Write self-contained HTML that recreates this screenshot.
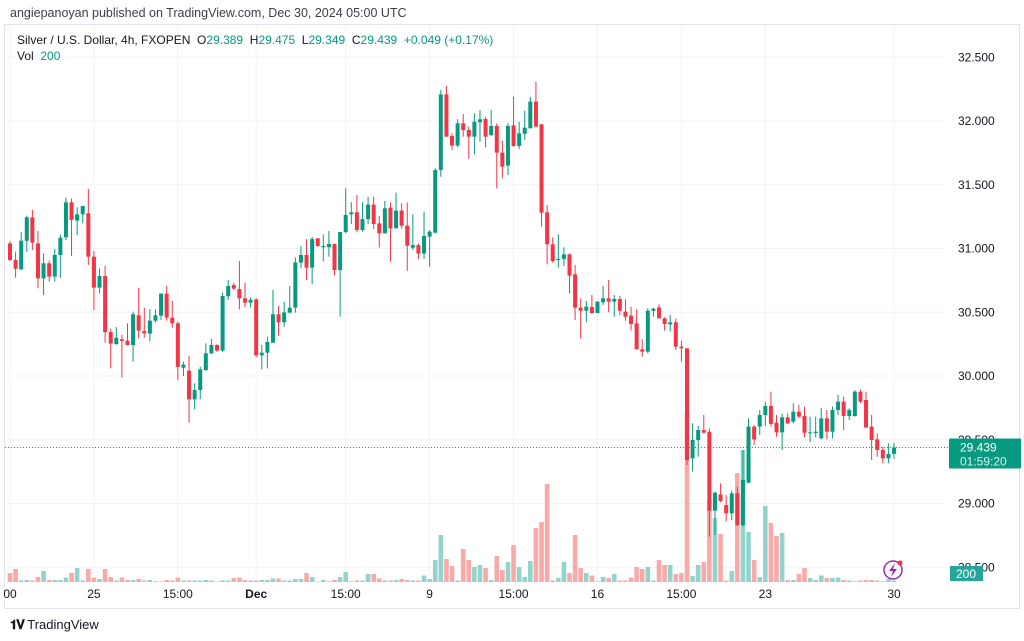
<!DOCTYPE html>
<html><head><meta charset="utf-8">
<style>
html,body{margin:0;padding:0;background:#fff;width:1024px;height:641px;overflow:hidden;font-family:"Liberation Sans",sans-serif;}
#wrap{position:relative;width:1024px;height:641px;}
.t{position:absolute;white-space:nowrap;}
</style></head><body>
<div id="wrap">
<div class="t" style="left:10px;top:6px;font-size:12.5px;color:#3b3f4a">angiepanoyan published on TradingView.com, Dec 30, 2024 05:00 UTC</div>
<svg id="chart" width="1024" height="641" style="position:absolute;left:0;top:0"></svg>
<div class="t" style="left:17px;top:33px;font-size:12px;color:#131722">Silver / U.S. Dollar, 4h, FXOPEN&nbsp;&nbsp;O<span style="color:#089981">29.389</span>&nbsp;&nbsp;H<span style="color:#089981">29.475</span>&nbsp;&nbsp;L<span style="color:#089981">29.349</span>&nbsp;&nbsp;C<span style="color:#089981">29.439</span>&nbsp;&nbsp;<span style="color:#089981">+0.049 (+0.17%)</span></div>
<div class="t" style="left:17px;top:49px;font-size:12px;color:#131722">Vol&nbsp;&nbsp;<span style="color:#089981">200</span></div>
<div class="t" style="left:10px;top:617px;font-size:13px;color:#131722"><b style="font-size:13px;letter-spacing:-1px">𝟏𝐕</b> TradingView</div>
</div>
<script>
const opens=[31.04,30.91,30.837,31.061,31.244,31.04,30.766,30.884,30.78,30.949,31.088,31.362,31.219,31.268,31.276,30.936,30.693,30.784,30.345,30.25,30.288,30.277,30.243,30.476,30.353,30.332,30.434,30.473,30.646,30.458,30.413,30.065,30.042,29.817,29.89,30.047,30.178,30.243,30.199,30.625,30.714,30.682,30.609,30.575,30.601,30.162,30.183,30.261,30.484,30.421,30.497,30.536,30.889,30.949,30.85,31.08,31.01,31.01,31.035,30.831,31.129,31.268,31.284,31.145,31.231,31.344,31.197,31.119,31.32,31.158,31.297,31.179,31.006,31.027,30.96,31.093,31.124,31.616,32.209,31.882,31.807,31.982,31.929,31.877,31.99,32.016,31.89,31.961,31.752,31.65,31.966,31.804,31.9,31.943,32.152,31.974,31.284,31.033,30.915,30.918,30.954,30.797,30.536,30.512,30.541,30.494,30.578,30.609,30.583,30.604,30.505,30.473,30.413,30.209,30.191,30.512,30.538,30.452,30.405,30.421,30.23,30.217,29.354,29.498,29.576,29.563,28.944,29.072,28.988,28.923,29.08,28.831,29.163,29.603,29.603,29.694,29.765,29.634,29.558,29.676,29.642,29.72,29.686,29.553,29.553,29.511,29.668,29.563,29.733,29.799,29.686,29.686,29.877,29.812,29.603,29.503,29.42,29.354,29.389];
const closes=[30.91,30.842,31.061,31.244,31.046,30.766,30.884,30.78,30.949,31.085,31.362,31.224,31.268,31.333,30.936,30.693,30.784,30.345,30.254,30.30,30.275,30.243,30.484,30.356,30.335,30.434,30.476,30.646,30.458,30.413,30.071,30.089,29.817,29.89,30.052,30.178,30.243,30.199,30.627,30.706,30.685,30.609,30.575,30.598,30.162,30.183,30.267,30.484,30.421,30.499,30.536,30.891,30.949,30.85,31.074,31.02,31.02,31.035,30.831,31.129,31.263,31.284,31.145,31.231,31.344,31.192,31.119,31.315,31.158,31.297,31.179,31.022,31.027,30.96,31.098,31.132,31.616,32.209,31.877,31.807,31.982,31.929,31.877,31.995,32.013,31.877,31.961,31.752,31.642,31.961,31.804,31.903,31.948,32.152,31.956,31.281,31.033,30.902,30.918,30.954,30.787,30.536,30.512,30.544,30.494,30.583,30.609,30.583,30.604,30.512,30.465,30.408,30.209,30.191,30.512,30.528,30.452,30.408,30.421,30.23,30.217,29.341,29.498,29.576,29.555,28.944,29.085,29.02,28.923,29.08,28.831,29.184,29.603,29.503,29.694,29.765,29.624,29.558,29.676,29.629,29.72,29.681,29.555,29.558,29.563,29.668,29.563,29.733,29.799,29.686,29.733,29.877,29.799,29.595,29.498,29.42,29.354,29.389,29.439];
const highs=[31.06,30.975,31.127,31.258,31.302,31.137,30.962,30.905,30.996,31.111,31.401,31.393,31.323,31.333,31.467,30.98,30.844,30.863,30.371,30.384,30.322,30.413,30.505,30.693,30.536,30.525,30.523,30.648,30.706,30.588,30.426,30.112,30.159,29.942,30.073,30.256,30.29,30.25,30.654,30.753,30.732,30.902,30.732,30.617,30.609,30.243,30.308,30.675,30.549,30.583,30.706,30.931,31.02,31.074,31.093,31.08,31.111,31.137,31.04,31.129,31.472,31.362,31.42,31.362,31.407,31.407,31.255,31.373,31.36,31.438,31.354,31.36,31.268,31.04,31.289,31.145,31.629,32.243,32.277,31.903,32.013,32.055,31.956,32.06,32.086,32.034,32.086,31.982,31.846,31.982,32.191,31.995,32.081,32.191,32.308,31.974,31.341,31.085,31.111,31.009,30.962,30.871,30.609,30.588,30.635,30.588,30.706,30.753,30.635,30.63,30.601,30.544,30.523,30.288,30.531,30.536,30.562,30.46,30.478,30.452,30.277,30.217,29.629,29.608,29.694,29.589,29.093,29.158,29.067,29.101,29.132,29.42,29.668,29.616,29.733,29.799,29.877,29.694,29.707,29.707,29.786,29.773,29.76,29.681,29.681,29.747,29.733,29.76,29.851,29.838,29.747,29.89,29.895,29.877,29.694,29.55,29.446,29.472,29.475];
const lows=[30.90,30.771,30.83,30.975,30.988,30.688,30.635,30.74,30.74,30.771,31.067,30.941,31.106,31.197,30.871,30.518,30.648,30.261,30.06,30.246,29.987,30.24,30.112,30.295,30.30,30.27,30.42,30.439,30.434,30.379,29.969,30.0,29.634,29.739,29.817,30.04,30.17,30.19,30.188,30.596,30.674,30.523,30.538,30.538,30.146,30.052,30.06,30.261,30.316,30.387,30.49,30.497,30.844,30.753,30.719,31.01,30.90,30.936,30.79,30.465,31.119,31.192,31.127,31.132,31.192,31.153,31.007,31.119,30.897,31.158,31.158,30.824,30.988,30.918,30.918,30.858,31.119,31.563,31.877,31.773,31.793,31.877,31.702,31.739,31.838,31.793,31.882,31.472,31.55,31.576,31.799,31.78,31.851,31.943,31.95,31.171,30.876,30.889,30.85,30.863,30.648,30.439,30.295,30.421,30.489,30.494,30.557,30.5,30.465,30.478,30.434,30.356,30.209,30.152,30.178,30.465,30.452,30.356,30.348,30.204,30.112,29.302,29.25,29.367,29.55,28.74,28.753,29.01,28.858,28.87,28.824,28.818,29.163,29.459,29.537,29.608,29.603,29.524,29.42,29.623,29.629,29.668,29.519,29.48,29.519,29.503,29.503,29.511,29.694,29.576,29.655,29.681,29.786,29.595,29.341,29.367,29.315,29.315,29.349];
const volumes=[9,13,1.5,2,1.5,5,11,2,2,2,4.5,9,14,1.5,13,4.5,3,13,5,1.5,4.5,2,2,3,1.5,2,0.7,0.7,2,1.5,4.5,1.5,1.5,1.5,1.5,2,1.5,0.5,1.5,1.5,4,4.5,2,1.5,1.5,2,2,3.5,3.5,1.5,1.5,3,3,9,5,0.5,2,0.7,2,5,10,0.7,1.5,1.5,8,8,3.5,1.5,1.5,2,3,2,1.5,1.5,6.5,3,22,47,23,16,1.5,33,22,15,17,14,2,26,12,20,37,15,5,21,54,60,98,1.5,4,20,9,47,14,9,6.5,0.7,5,4,8,1.5,1.5,4.5,15,13,15,1.5,22,17,17,8,9,169,6,17,20,82,64,48,1.5,11,109,132,50,22,5,76,59,46,49,2,2,8,14,4,2,6.5,4,4,4.5,2,1.5,0.7,1.5,2,2,1.5,0.7,3,1.5];
const priceTicks=["32.500","32.000","31.500","31.000","30.500","30.000","29.500","29.000","28.500"];
const priceTickValues=[32.5,32,31.5,31,30.5,30,29.5,29,28.5];
const timeLabels=["00","25","15:00","Dec","15:00","9","15:00","16","15:00","23","30"];
const timeLabelIndex=[0,15,30,44,60,75,90,105,120,135,158];

const NS="http://www.w3.org/2000/svg";
const svg=document.getElementById('chart');
const X=i=>10+i*5.595;
const Y=p=>376-(p-30)*127.5;
const VY=v=>582-v;
function mk(tag,attrs,parent){const e=document.createElementNS(NS,tag);for(const k in attrs)e.setAttribute(k,attrs[k]);(parent||svg).appendChild(e);return e;}

// frame
const frame=mk('rect',{x:4.5,y:24.5,width:1015,height:584,fill:'none',stroke:'#e0e3eb'});


// grid
priceTickValues.forEach((v,k)=>{
  const g=mk('line',{x1:5,x2:945,y1:Y(v),y2:Y(v),stroke:'#f0f3fa'});
  
  
});
timeLabelIndex.forEach((idx,k)=>{
  const g=mk('line',{x1:X(idx),x2:X(idx),y1:25,y2:582,stroke:'#f0f3fa'});
  
  
});
// volume
volumes.forEach((v,i)=>{
  const up=closes[i]>=opens[i];
  const r=mk('rect',{x:X(i)-2.3,y:VY(v),width:4.6,height:v,fill:up?'#93d3cc':'#f8a9a8'});
  
  
});
// candles
opens.forEach((o,i)=>{
  const c=closes[i],up=c>=o,col=up?'#089981':'#f23645';
  const w=mk('line',{x1:X(i),x2:X(i),y1:Y(highs[i]),y2:Y(lows[i]),stroke:col,'stroke-width':1});
  
  
  const top=Y(Math.max(o,c)),h=Math.max(1,Math.abs(Y(o)-Y(c)));
  const b=mk('rect',{x:X(i)-2,y:top,width:4,height:h,fill:col});
  
  
});
// price line
const last=closes[closes.length-1];
const pl=mk('line',{x1:5,x2:948,y1:Y(last),y2:Y(last),stroke:'#089981','stroke-dasharray':'1 2'});


// price axis labels
priceTicks.forEach((t,k)=>{
  const tx=mk('text',{x:958,y:Y(priceTickValues[k])+4,'font-size':12,fill:'#131722','font-family':'Liberation Sans, sans-serif'});
  tx.textContent=t;
  
  
});
// last price box
const bx=mk('rect',{x:949,y:Y(last)-9,width:72,height:30,fill:'#089981',rx:1});


const t1=mk('text',{x:960,y:Y(last)+4,'font-size':12,fill:'#fff','font-family':'Liberation Sans, sans-serif'});t1.textContent=last.toFixed(3);


const t2=mk('text',{x:960,y:Y(last)+18,'font-size':12,fill:'#d6f0ec','font-family':'Liberation Sans, sans-serif'});t2.textContent='01:59:20';


// volume box
const vb=mk('rect',{x:950,y:566,width:33,height:15,fill:'#26a69a'});


const vt=mk('text',{x:956,y:578,'font-size':12,fill:'#fff','font-family':'Liberation Sans, sans-serif'});vt.textContent='200';


// time axis
timeLabels.forEach((t,k)=>{
  const tx=mk('text',{x:X(timeLabelIndex[k]),y:598,'font-size':12,fill:'#131722','text-anchor':'middle','font-weight':t==='Dec'?'bold':'normal','font-family':'Liberation Sans, sans-serif'});
  tx.textContent=t;
  
  
});
// lightning icon
const ic=mk('circle',{cx:893,cy:570,r:9,fill:'#fff',stroke:'#9c27b0','stroke-width':1.5});


const bolt=mk('path',{d:'M895 563 L889 571 L893 571 L891 577 L897 569 L893 569 Z',fill:'#9c27b0'});


const dot=mk('circle',{cx:900,cy:563,r:2.5,fill:'#f23645'});


</script>
</body></html>
